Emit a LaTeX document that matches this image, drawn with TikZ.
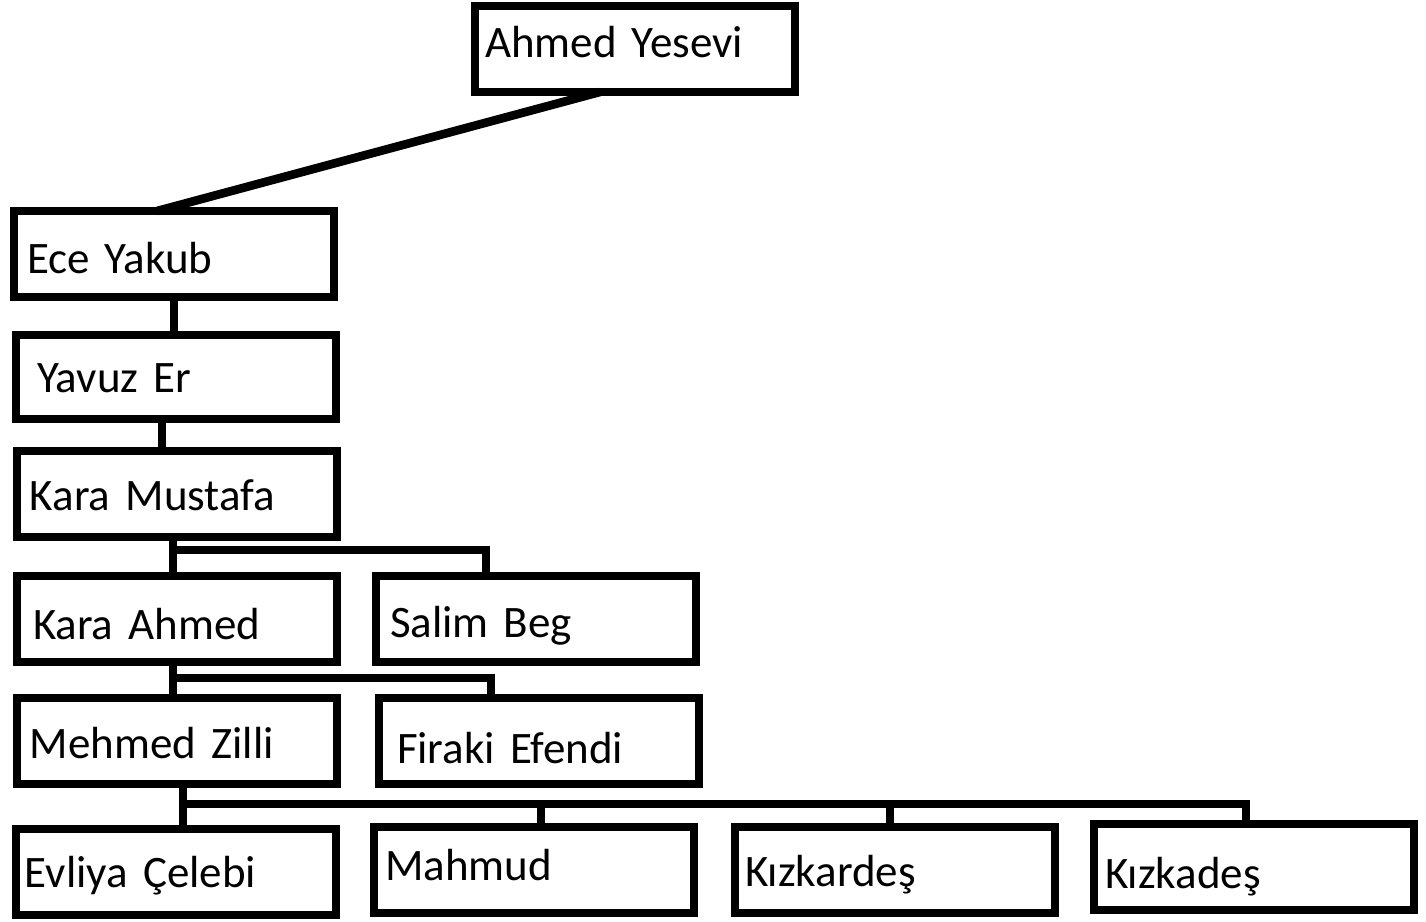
\documentclass[tikz,border=0pt]{standalone}
\usepackage{fontspec}
\setmainfont{Carlito}[WordSpace=0.6]
\begin{document}
\begin{tikzpicture}[x=0.5pt,y=-0.5pt,
        box/.style={draw,line width=4.3pt,outer sep=0pt,anchor=north west,minimum width=160pt,minimum height=43pt,
            inner xsep=0pt,text width=146pt,align=left,text height=14.5pt,text depth=0pt,
            font=\fontsize{22.5}{27}\selectfont},
        link/.style={line width=4.3pt}]
        \useasboundingbox (0,0) rectangle (1426,922);
        \node[box,text width=150pt,text height=8.5pt] (yesevi) at (475,6) {Ahmed Yesevi};
        \node[box,text width=147pt,text height=19pt] (ece) at (14,211) {Ece Yakub};
        \node[box,minimum height=42pt,text width=139pt,text height=15.5pt] (yavuz) at (16,335) {Yavuz Er};
        \node[box,text width=147pt,text height=16.5pt] (mustafa) at (17,451) {Kara Mustafa};
        \node[box,text width=144pt,text height=20pt] (karaahmed) at (17,576) {Kara Ahmed};
        \node[box,text width=146pt,text height=18pt] (salim) at (376,576) {Salim Beg};
        \node[box,text width=147pt,text height=17.5pt] (mehmed) at (17,698) {Mehmed Zilli};
        \node[box,text width=142pt,text height=22pt] (firaki) at (379,698) {Firaki Efendi};
        \node[box,text width=151pt,text height=15.5pt] (evliya) at (16,829) {Evliya Çelebi};
        \node[box,text width=149pt,text height=10pt] (mahmud) at (374,827) {Mahmud};
        \node[box,text width=150pt,text height=16pt] (kizkardes) at (735,827) {Kızkardeş};
        \node[box,text width=149pt,text height=21.5pt] (kizkades) at (1094,824) {Kızkadeş};
        % single lines
        \draw[link] ([xshift=-17.5pt]yesevi.south) -- ([xshift=-8.5pt]ece.north);
        \draw[link] (ece.south) -- (ece.south |- yavuz.north);
        \draw[link] ([xshift=-7pt]yavuz.south) -- ([xshift=-7pt]yavuz.south |- mustafa.north);
        % branches
        \coordinate (bus1) at ([xshift=-2pt,yshift=-6.5pt]mustafa.south);
        \draw[link] ([xshift=-2pt]mustafa.south) -- ([xshift=-2pt]mustafa.south |- karaahmed.north);
        \draw[link] (bus1) -| ([xshift=-25pt]salim.north);
        \coordinate (bus2) at ([xshift=-2pt,yshift=-8pt]karaahmed.south);
        \draw[link] ([xshift=-2pt]karaahmed.south) -- ([xshift=-2pt]karaahmed.south |- mehmed.north);
        \draw[link] (bus2) -| ([xshift=-24pt]firaki.north);
        \coordinate (bus3) at ([xshift=3pt,yshift=-10pt]mehmed.south);
        \draw[link] ([xshift=3pt]mehmed.south) -- ([xshift=3pt]mehmed.south |- evliya.north);
        \draw[link] (bus3) -| ([xshift=-4pt]kizkades.north);
        \foreach \n/\dx in {mahmud/3.5pt,kizkardes/-2.5pt}
            \draw[link] ([xshift=\dx]\n.north) -- ([xshift=\dx]\n.north |- bus3);
\end{tikzpicture}
\end{document}
